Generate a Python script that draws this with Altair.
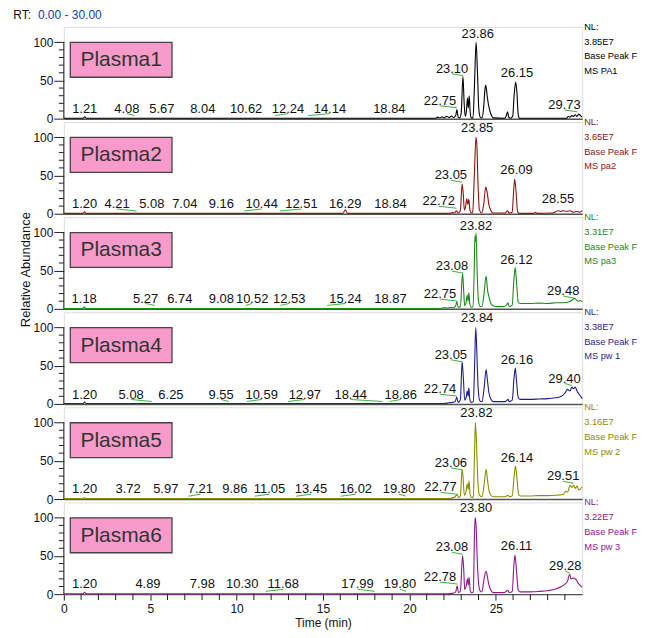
import altair as alt
import pandas as pd

FONT = "Liberation Sans"

names = ["Plasma1", "Plasma2", "Plasma3", "Plasma4", "Plasma5", "Plasma6"]
colors = ["#000000", "#8e1212", "#1b8a1b", "#1e1e90", "#8c8c00", "#8e168e"]
nl_values = ["3.85E7", "3.65E7", "3.31E7", "3.38E7", "3.16E7", "3.22E7"]
ms_names = ["MS PA1", "MS pa2", "MS pa3", "MS pw 1", "MS pw 2", "MS pw 3"]
y_major = [0, 50, 100]
y_minor = [10, 20, 30, 40, 60, 70, 80, 90]
x_major = [0, 5, 10, 15, 20, 25]
x_minor = [1, 2, 3, 4, 6, 7, 8, 9, 11, 12, 13, 14, 16, 17, 18, 19, 21, 22, 23, 24, 26, 27, 28, 29]

# chromatogram traces (time, relative abundance)
trace1 = [(0, 0.5), (1.12, 0.5), (1.21, 2.5), (1.3, 0.5), (21.5, 0.5), (21.65, 2), (21.75, 0.8), (21.9, 2.5),
          (22.0, 1), (22.15, 3), (22.3, 1.5), (22.45, 3.5), (22.55, 1.5), (22.68, 4), (22.75, 12), (22.82, 2),
          (22.92, 1), (23.0, 8), (23.10, 55), (23.17, 20), (23.23, 3), (23.30, 10), (23.36, 27), (23.41, 14),
          (23.46, 30), (23.52, 8), (23.58, 1), (23.68, 1), (23.76, 40), (23.86, 100), (23.94, 60), (24.02, 12),
          (24.1, 2), (24.2, 1), (24.3, 15), (24.38, 40), (24.42, 44), (24.5, 30), (24.58, 18), (24.66, 10),
          (24.75, 4), (24.85, 1), (25.5, 0.5), (25.6, 3), (25.68, 9), (25.75, 2), (25.85, 0.5), (25.98, 3),
          (26.06, 30), (26.15, 48), (26.22, 35), (26.3, 5), (26.38, 0.5), (29.1, 0.5), (29.2, 3), (29.3, 2),
          (29.4, 4), (29.5, 3), (29.6, 5), (29.7, 3), (29.8, 6), (29.9, 4), (30.0, 2)]
trace2 = [(0, 0.5), (1.12, 0.5), (1.20, 2.5), (1.28, 0.5), (16.15, 0.5), (16.29, 5), (16.42, 0.5), (22.3, 0.5),
          (22.5, 1.5), (22.62, 1), (22.72, 4), (22.8, 1), (22.95, 4), (23.05, 39), (23.12, 25), (23.18, 5),
          (23.26, 10), (23.32, 20), (23.38, 12), (23.44, 19), (23.5, 5), (23.58, 1), (23.66, 2), (23.76, 50),
          (23.85, 100), (23.9, 92), (23.97, 40), (24.05, 5), (24.18, 1), (24.3, 12), (24.42, 35), (24.5, 28),
          (24.6, 12), (24.72, 4), (24.85, 1), (25.55, 1), (25.68, 4), (25.76, 1), (25.95, 2), (26.02, 25),
          (26.09, 45), (26.17, 30), (26.26, 3), (26.35, 0.5), (27.2, 0.5), (27.3, 2), (27.4, 0.5), (28.3, 1),
          (28.5, 3), (28.6, 4), (28.75, 3), (28.9, 4), (29.1, 3), (29.3, 4), (29.5, 2), (29.7, 3), (29.85, 2),
          (30.0, 4)]
trace3 = [(0, 0.5), (1.10, 0.5), (1.18, 2.5), (1.26, 0.5), (21.8, 0.5), (22.0, 1.5), (22.2, 1), (22.4, 2),
          (22.55, 1.5), (22.68, 4), (22.75, 10), (22.82, 2), (22.95, 3), (23.08, 47), (23.15, 20), (23.2, 4),
          (23.28, 8), (23.35, 18), (23.4, 10), (23.44, 21), (23.5, 6), (23.58, 2), (23.68, 3), (23.76, 60),
          (23.79, 95), (23.82, 88), (23.86, 99), (23.92, 50), (24.0, 10), (24.1, 3), (24.2, 3), (24.32, 20),
          (24.44, 43), (24.52, 25), (24.6, 16), (24.7, 8), (24.82, 4), (25.0, 3), (25.5, 3), (25.62, 5),
          (25.70, 8), (25.78, 3), (25.95, 5), (26.04, 35), (26.12, 54), (26.2, 35), (26.3, 9), (26.4, 7),
          (27.0, 7), (27.5, 7.5), (28.0, 7), (28.5, 8), (28.9, 8), (29.2, 9), (29.4, 11), (29.55, 14),
          (29.65, 12), (29.8, 10), (29.9, 11), (30.0, 9)]
trace4 = [(0, 0.5), (1.12, 0.5), (1.20, 2.5), (1.28, 0.5), (22.0, 0.5), (22.3, 1.5), (22.5, 2), (22.65, 3),
          (22.74, 9), (22.82, 2), (22.95, 5), (23.05, 55), (23.12, 35), (23.2, 5), (23.28, 8), (23.35, 17),
          (23.4, 10), (23.44, 21), (23.5, 5), (23.58, 2), (23.7, 3), (23.78, 55), (23.84, 100), (23.9, 70),
          (23.98, 20), (24.08, 4), (24.2, 3), (24.32, 20), (24.44, 45), (24.52, 30), (24.6, 15), (24.72, 6),
          (24.85, 3), (25.5, 3), (25.62, 4), (25.70, 6), (25.78, 3), (25.95, 5), (26.06, 35), (26.13, 47),
          (26.2, 30), (26.3, 8), (26.4, 6), (27.0, 6), (27.5, 6.5), (28.0, 7), (28.5, 8), (28.8, 10),
          (29.0, 14), (29.15, 19), (29.3, 17), (29.4, 22), (29.5, 20), (29.6, 22), (29.7, 17), (29.85, 12),
          (30.0, 7)]
trace5 = [(0, 0.5), (1.12, 0.5), (1.20, 2), (1.28, 0.5), (22.2, 0.5), (22.5, 1.5), (22.65, 3), (22.77, 6),
          (22.85, 2), (22.95, 4), (23.05, 39), (23.1, 30), (23.18, 5), (23.28, 10), (23.35, 20), (23.4, 12),
          (23.45, 24), (23.52, 5), (23.6, 2), (23.7, 3), (23.77, 60), (23.82, 100), (23.88, 75), (23.95, 30),
          (24.05, 5), (24.2, 3), (24.32, 18), (24.44, 39), (24.52, 25), (24.6, 12), (24.72, 5), (24.85, 3),
          (25.5, 3), (25.62, 4), (25.70, 5), (25.78, 3), (25.95, 4), (26.06, 30), (26.14, 43), (26.22, 28),
          (26.32, 6), (26.42, 4), (27.0, 4), (27.5, 4.5), (28.0, 4.5), (28.5, 5), (28.9, 6), (29.05, 10),
          (29.15, 9), (29.3, 18), (29.4, 15), (29.5, 18), (29.6, 14), (29.7, 17), (29.8, 12), (29.9, 13),
          (30.0, 16)]
trace6 = [(0, 0.5), (1.12, 0.5), (1.20, 2.5), (1.28, 0.5), (22.2, 0.5), (22.5, 1), (22.68, 3), (22.76, 11),
          (22.84, 2), (22.95, 4), (23.08, 50), (23.15, 30), (23.2, 6), (23.28, 10), (23.36, 20), (23.41, 12),
          (23.45, 22), (23.52, 5), (23.6, 2), (23.7, 3), (23.76, 70), (23.80, 100), (23.86, 90), (23.92, 50),
          (24.0, 15), (24.1, 4), (24.2, 3), (24.32, 20), (24.44, 30), (24.52, 22), (24.6, 12), (24.72, 5),
          (24.85, 2), (25.5, 2), (25.62, 4), (25.69, 5), (25.78, 2), (25.95, 3), (26.04, 35), (26.11, 51),
          (26.2, 30), (26.3, 5), (26.4, 3), (27.0, 3), (27.5, 3.5), (28.0, 4.5), (28.5, 7), (28.8, 10),
          (29.0, 13), (29.15, 17), (29.28, 26), (29.35, 20), (29.5, 21), (29.65, 19), (29.75, 15), (29.9, 11),
          (30.0, 9)]
traces = [trace1, trace2, trace3, trace4, trace5, trace6]

# peak labels: retention time, label anchor time, label height (relative abundance)
pk1 = [1.21, 4.08, 5.67, 8.04, 10.62, 12.24, 14.14, 18.84, 22.75, 23.10, 23.86, 26.15, 29.73]
lx1 = [1.21, 3.65, 5.67, 8.04, 10.55, 12.97, 15.4, 18.84, 21.77, 22.47, 23.95, 26.23, 28.98]
ly1 = [7.8, 7.8, 7.8, 7.8, 7.8, 7.8, 7.8, 7.8, 18, 60, 105.5, 54.5, 12.6]
pk2 = [1.20, 4.21, 5.08, 7.04, 9.16, 10.44, 12.51, 16.29, 18.84, 22.72, 23.05, 23.85, 26.09, 28.55]
lx2 = [1.20, 3.08, 5.09, 7.0, 9.12, 11.45, 13.75, 16.29, 18.9, 21.70, 22.40, 23.92, 26.2, 28.6]
ly2 = [7.4, 7.4, 7.4, 7.4, 7.4, 7.4, 7.4, 7.4, 7.4, 11, 45, 107.4, 51.8, 14]
pk3 = [1.18, 5.27, 6.74, 9.08, 10.52, 12.53, 15.24, 18.87, 22.75, 23.08, 23.82, 26.12, 29.48]
lx3 = [1.18, 4.73, 6.71, 9.12, 10.9, 13.05, 16.3, 18.9, 21.77, 22.46, 23.85, 26.2, 28.9]
ly3 = [8.2, 8.2, 8.2, 8.2, 8.2, 8.2, 8.2, 8.2, 14, 50.6, 103, 59, 18]
pk4 = [1.20, 5.08, 6.25, 9.55, 10.59, 12.97, 18.44, 18.86, 22.74, 23.05, 23.84, 26.16, 29.40]
lx4 = [1.20, 3.9, 6.2, 9.1, 11.45, 13.95, 16.6, 19.5, 21.77, 22.4, 23.92, 26.23, 28.98]
ly4 = [7, 7, 7, 7, 7, 7, 7, 7, 14, 59, 106.8, 51.8, 28]
pk5 = [1.20, 3.72, 5.97, 7.21, 9.86, 11.05, 13.45, 16.02, 19.80, 22.77, 23.06, 23.82, 26.14, 29.51]
lx5 = [1.20, 3.72, 5.9, 7.9, 9.9, 11.9, 14.3, 16.9, 19.4, 21.8, 22.4, 23.88, 26.23, 28.9]
ly5 = [7.5, 7.5, 7.5, 7.5, 7.5, 7.5, 7.5, 7.5, 7.5, 10, 42, 107, 48, 24.4]
pk6 = [1.20, 4.89, 7.98, 10.30, 11.68, 17.99, 19.80, 22.78, 23.08, 23.80, 26.11, 29.28]
lx6 = [1.20, 4.87, 8.02, 10.33, 12.7, 17.0, 19.46, 21.77, 22.46, 23.85, 26.2, 29.02]
ly6 = [7.5, 7.5, 7.5, 7.5, 7.5, 7.5, 7.5, 17, 56, 107, 57.5, 31.5]
peaks = [(pk1, lx1, ly1), (pk2, lx2, ly2), (pk3, lx3, ly3), (pk4, lx4, ly4), (pk5, lx5, ly5), (pk6, lx6, ly6)]

W, H = 520, 92
xs = alt.Scale(domain=[0, 30], nice=False, zero=False)
ys = alt.Scale(domain=[0, 120], nice=False, zero=True)


def make_panel(i):
    tr = pd.DataFrame(traces[i], columns=["t", "v"])
    pk, lx, ly = peaks[i]
    lab = pd.DataFrame({"t": lx, "v": ly, "label": [f"{p:.2f}" for p in pk]})
    lead_rows = [dict(t=a, t2=p, v=b - 1.2, v2=b - 3.8) for p, a, b in zip(pk, lx, ly) if abs(a - p) > 0.2]
    lead = pd.DataFrame(lead_rows, columns=["t", "t2", "v", "v2"])

    if i == 5:
        xaxis = alt.Axis(values=x_major, tickSize=6, tickColor="#222", labelFontSize=12, labelPadding=3,
                         labelFlush=False, labelOverlap=False, domainColor="#555", domainWidth=1.5,
                         title="Time (min)", titleFontSize=12, titleFontWeight="normal", titlePadding=3,
                         grid=False, labelColor="#111", titleColor="#111", format="d",
                         labelFont=FONT, titleFont=FONT)
    else:
        xaxis = alt.Axis(labels=False, ticks=False, title=None, domainColor="#555", domainWidth=1.5, grid=False)
    yaxis = alt.Axis(values=y_major, tickSize=10, domain=False, grid=False, title=None, labelFontSize=12,
                     labelPadding=1, labelFlush=False, tickColor="#222", labelColor="#111", labelFont=FONT)

    line = alt.Chart(tr).mark_line(color=colors[i], strokeWidth=1.1, interpolate="monotone").encode(
        x=alt.X("t:Q", scale=xs, axis=xaxis), y=alt.Y("v:Q", scale=ys, axis=yaxis))
    minor = alt.Chart(pd.DataFrame({"v": y_minor})).mark_rule(color="#222", strokeWidth=1).encode(
        x=alt.value(-5), x2=alt.value(0), y="v:Q")
    yline = alt.Chart(pd.DataFrame({"v": [0], "v2": [100]})).mark_rule(color="#222", strokeWidth=1).encode(
        x=alt.value(0), y="v:Q", y2="v2:Q")
    leaders = alt.Chart(lead).mark_rule(color="#3cb43c", strokeWidth=1).encode(
        x="t:Q", x2="t2:Q", y="v:Q", y2="v2:Q")
    labels = alt.Chart(lab).mark_text(font=FONT, fontSize=13, color="#111", align="center",
                                      baseline="alphabetic").encode(x="t:Q", y="v:Q", text="label:N")
    nm = pd.DataFrame({"name": [names[i]],
                       "nl": [f"NL:\n{nl_values[i]}\nBase Peak F\n\u00a0{ms_names[i]}"]})
    box = alt.Chart(nm).mark_rect(fill="#f99bca", stroke="#444", strokeWidth=1.3).encode(
        x=alt.value(6.5), x2=alt.value(108.5), y=alt.value(15.5), y2=alt.value(50.5))
    boxtext = alt.Chart(nm).mark_text(font=FONT, fontSize=21, color="#333", align="center",
                                      baseline="middle").encode(x=alt.value(57.5), y=alt.value(33.5), text="name:N")
    nltext = alt.Chart(nm).mark_text(font=FONT, fontSize=9.3, color=colors[i], align="left", baseline="top",
                                     lineBreak="\n", lineHeight=14.8).encode(
        x=alt.value(522), y=alt.value(-4), text="nl:N")
    layers = [line, minor, yline, leaders, labels, box, boxtext, nltext]
    if i == 5:
        xmin = alt.Chart(pd.DataFrame({"t": x_minor})).mark_rule(color="#222", strokeWidth=1).encode(
            x="t:Q", y=alt.value(H), y2=alt.value(H + 6))
        layers.append(xmin)
    if i == 0:
        rt = pd.DataFrame({"a": ["RT:"], "b": ["0.00 - 30.00"]})
        layers.append(alt.Chart(rt).mark_text(font=FONT, fontSize=12, color="#111", align="left",
                                              baseline="top").encode(x=alt.value(-50.7), y=alt.value(-17.3), text="a:N"))
        layers.append(alt.Chart(rt).mark_text(font=FONT, fontSize=12, color="#1a3caa", align="left",
                                              baseline="top").encode(x=alt.value(-26), y=alt.value(-17.3), text="b:N"))
    if i == 2:
        tt = pd.DataFrame({"a": ["Relative Abundance"]})
        layers.append(alt.Chart(tt).mark_text(font=FONT, fontSize=13, color="#111", align="center",
                                              baseline="middle", angle=270).encode(
            x=alt.value(-37.7), y=alt.value(52.7), text="a:N"))
    return alt.layer(*layers).properties(width=W, height=H)


panels = [make_panel(i) for i in range(6)]
chart = alt.vconcat(*panels, spacing=3.4, bounds="flush").properties(
    padding={"left": 4, "top": -1, "right": 0, "bottom": 0}
).configure_view(stroke=None).configure(font=FONT)

chart.save("out.html", embed_options={"renderer": "svg", "actions": False})
